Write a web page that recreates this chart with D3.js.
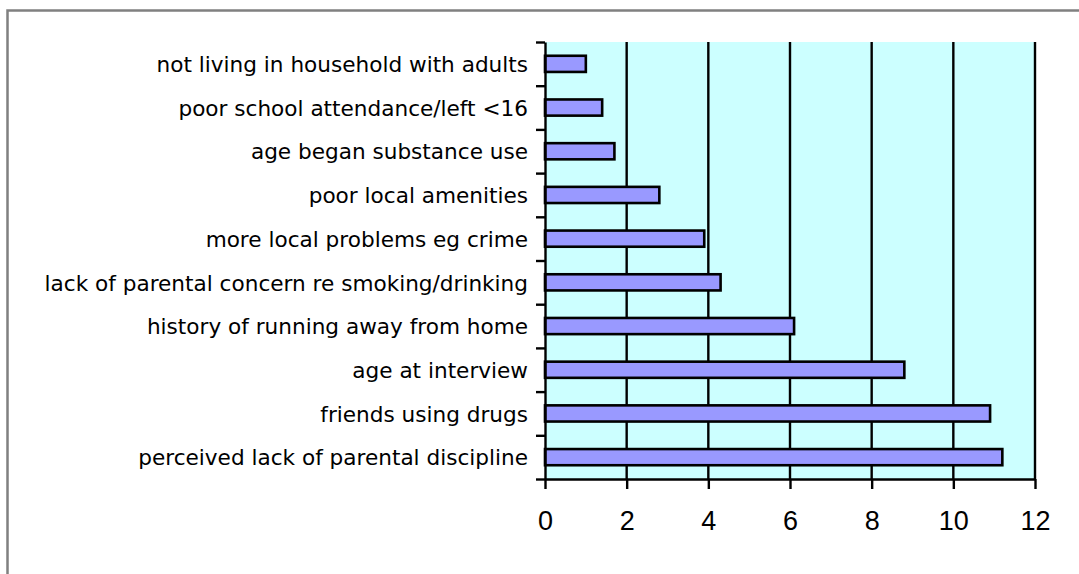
<!DOCTYPE html>
<html>
<head>
<meta charset="utf-8">
<script src="https://cdn.jsdelivr.net/npm/d3@7"></script>
<style>
  html, body { margin: 0; padding: 0; background: #ffffff; }
  svg { display: block; }
</style>
</head>
<body>
<svg id="chart" width="1079" height="574"></svg>
<script>
// Risk factors, listed top to bottom
const categories = [
  "not living in household with adults",
  "poor school attendance/left <16",
  "age began substance use",
  "poor local amenities",
  "more local problems eg crime",
  "lack of parental concern re smoking/drinking",
  "history of running away from home",
  "age at interview",
  "friends using drugs",
  "perceived lack of parental discipline"
];
const values = [1.0, 1.4, 1.7, 2.8, 3.9, 4.3, 6.1, 8.8, 10.9, 11.2];
const xTicks = [0, 2, 4, 6, 8, 10, 12];

const svg = d3.select("#chart");
const W = 1079, H = 574;
const plot = { left: 545, right: 1035, top: 42, bottom: 479 };

// Outer frame
svg.append("rect")
  .attr("x", 7.5).attr("y", 10.5)
  .attr("width", W + 20).attr("height", H + 20)
  .attr("fill", "#ffffff")
  .attr("stroke", "#808080").attr("stroke-width", 2.5);

const x = d3.scaleLinear().domain([0, 12]).range([plot.left, plot.right]);
const y = d3.scaleBand().domain(categories).range([plot.top, plot.bottom])
  .paddingInner(0.63).paddingOuter(0.315);
const yBounds = d3.scaleLinear().domain([0, categories.length]).range([plot.top, plot.bottom]);

// Plot background
svg.append("rect")
  .attr("x", plot.left).attr("y", plot.top)
  .attr("width", plot.right - plot.left).attr("height", plot.bottom - plot.top)
  .attr("fill", "#ccffff");

// Vertical gridlines
svg.append("g").selectAll("line")
  .data(xTicks.filter(d => d > 0))
  .join("line")
  .attr("x1", d => x(d)).attr("x2", d => x(d))
  .attr("y1", plot.top).attr("y2", plot.bottom)
  .attr("stroke", "#000").attr("stroke-width", 2.4);

// Bars
svg.append("g").selectAll("rect")
  .data(values)
  .join("rect")
  .attr("x", x(0))
  .attr("y", (d, i) => y(categories[i]))
  .attr("width", d => x(d) - x(0))
  .attr("height", y.bandwidth())
  .attr("fill", "#9999ff")
  .attr("stroke", "#000").attr("stroke-width", 2.6);

// Category axis: ticks sit on the boundaries between bands
const yAxis = d3.axisLeft(yBounds)
  .tickValues(d3.range(0, categories.length + 1))
  .tickSize(9).tickSizeOuter(0).tickFormat("");
const gy = svg.append("g").attr("transform", `translate(${plot.left},0)`).call(yAxis);
gy.select(".domain").attr("stroke", "#000").attr("stroke-width", 2.4);
gy.selectAll(".tick line").attr("stroke", "#000").attr("stroke-width", 2.4);

svg.append("g").selectAll("text")
  .data(categories)
  .join("text")
  .attr("x", 528)
  .attr("y", d => y(d) + y.bandwidth() / 2)
  .attr("dy", "0.38em")
  .attr("text-anchor", "end")
  .attr("font-family", "'DejaVu Sans', Verdana, sans-serif")
  .attr("font-size", 21.6)
  .attr("fill", "#000")
  .text(d => d);

// Value axis
const xAxis = d3.axisBottom(x).tickValues(xTicks).tickSize(10).tickSizeOuter(0).tickPadding(22);
const gx = svg.append("g").attr("transform", `translate(0,${plot.bottom})`).call(xAxis);
gx.select(".domain").attr("stroke", "#000").attr("stroke-width", 2.4);
gx.selectAll(".tick line").attr("stroke", "#000").attr("stroke-width", 2.4);
gx.selectAll(".tick text")
  .attr("font-family", "'Liberation Sans', Arial, sans-serif")
  .attr("font-size", 27)
  .attr("fill", "#000");
</script>
</body>
</html>
